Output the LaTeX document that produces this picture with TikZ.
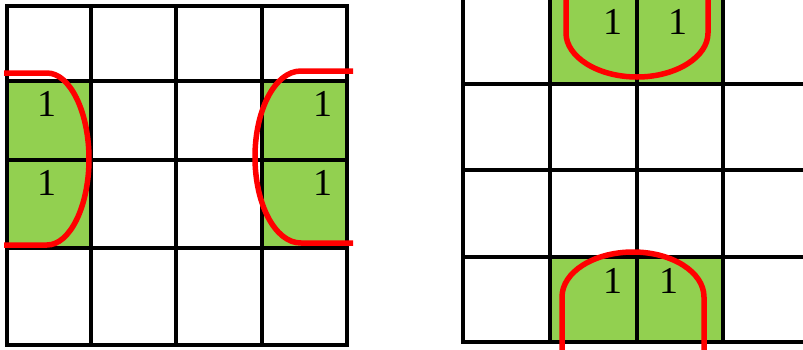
\documentclass[tikz,border=0pt]{standalone}
\usepackage{fontspec}
\setmainfont{Liberation Serif}
\definecolor{cellgreen}{RGB}{146,208,80}
\definecolor{loopred}{RGB}{255,0,0}
\tikzset{
  gridline/.style={line width=3.8pt, black, line cap=rect},
  loopline/.style={line width=5.5pt, loopred, line cap=butt, line join=round},
  one/.style={inner sep=0pt, font=\fontsize{38}{42}\selectfont},
}
\begin{document}
\begin{tikzpicture}[x=1pt,y=-1pt]
\useasboundingbox (0,0) rectangle (803,349);
\clip (0,0) rectangle (803,349);
% ---------- left map ----------
\fill[cellgreen] (7,81) rectangle (91,248);
\fill[cellgreen] (262,81) rectangle (347,248);
\foreach \x in {7,91,176,262,347} \draw[gridline] (\x,6) -- (\x,345);
\foreach \y in {6,81,160,248,345} \draw[gridline] (7,\y) -- (347,\y);
\node[one] (l1) at (47,104) {1};
\node[one] (l2) at (47,183) {1};
\node[one] (r1) at (323,104) {1};
\node[one] (r2) at (323,183) {1};
\draw[loopline] (4,73) -- (47,73)
  .. controls (70,73) and (89,112) .. (89,159)
  .. controls (89,206) and (70,245) .. (47,245) -- (4,245);
\draw[loopline] (353,71) -- (301,71)
  .. controls (275,71) and (255,110) .. (255,157)
  .. controls (255,204) and (275,243) .. (301,243) -- (353,243);
% ---------- right map ----------
\fill[cellgreen] (550,-5) rectangle (723,84);
\fill[cellgreen] (550,257) rectangle (723,342);
\foreach \x in {463,550,637,723} \draw[gridline] (\x,-5) -- (\x,342);
\foreach \y in {84,170,257,342} \draw[gridline] (463,\y) -- (810,\y);
\node[one] (t1) at (613,22) {1};
\node[one] (t2) at (678,22) {1};
\node[one] (b1) at (613,281) {1};
\node[one] (b2) at (669,281) {1};
\draw[loopline] (566,-5) -- (566,33)
  .. controls (566,57) and (598,77) .. (637,77)
  .. controls (676,77) and (708,57) .. (708,33) -- (708,-5);
\draw[loopline] (562,355) -- (562,297)
  .. controls (562,272) and (594,252) .. (633,252)
  .. controls (672,252) and (704,272) .. (704,297) -- (704,355);
\end{tikzpicture}
\end{document}
